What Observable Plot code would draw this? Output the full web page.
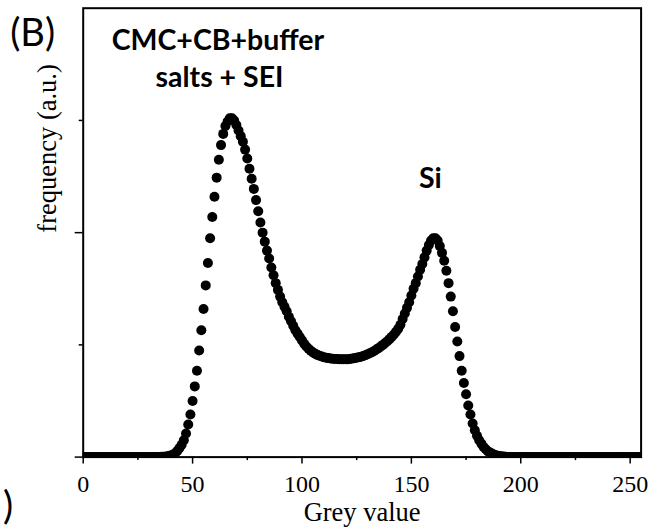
<!DOCTYPE html>
<html>
<head>
<meta charset="utf-8">
<script src="https://cdn.jsdelivr.net/npm/d3@7"></script>
<script src="https://cdn.jsdelivr.net/npm/@observablehq/plot@0.6"></script>
<style>
  html, body { margin: 0; padding: 0; background: #fff; }
  #chart { width: 651px; height: 528px; }
</style>
</head>
<body>
<div id="chart"></div>
<script>
// Frequency (a.u.) for each grey value 0..255
const frequency = [
  // 0-34
  0,0,0,0,0,0,0,0,0,0, 0,0,0,0,0,0,0,0,0,0, 0,0,0,0,0,0,0,0,0,0, 0,0,0,0,0,
  // 35-49
  0.002,0.003,0.004,0.006,0.009,0.014,0.022,0.035,0.055,0.08,0.11,0.15,0.21,0.29,0.38,
  // 50-69
  0.50,0.63,0.77,0.95,1.13,1.32,1.53,1.73,1.95,2.14,2.32,2.49,2.65,2.78,2.88,2.95,2.99,3.02,3.02,3.00,
  // 70-89
  2.96,2.91,2.86,2.81,2.74,2.66,2.57,2.48,2.39,2.29,2.19,2.09,2.00,1.92,1.84,1.77,1.69,1.62,1.55,1.49,
  // 90-109
  1.43,1.38,1.34,1.30,1.25,1.21,1.17,1.13,1.10,1.07,1.04,1.01,0.985,0.965,0.948,0.933,0.921,0.911,0.903,0.896,
  // 110-129
  0.890,0.886,0.882,0.879,0.877,0.875,0.874,0.873,0.872,0.872,0.872,0.873,0.875,0.878,0.881,0.885,0.890,0.895,0.901,0.908,
  // 130-149
  0.916,0.925,0.935,0.946,0.958,0.971,0.985,1.000,1.016,1.033,1.051,1.071,1.093,1.117,1.143,1.18,1.23,1.28,1.33,1.38,
  // 150-169
  1.44,1.50,1.55,1.61,1.67,1.72,1.78,1.84,1.89,1.93,1.95,1.95,1.93,1.88,1.82,1.75,1.66,1.55,1.43,1.30,
  // 170-189
  1.16,1.03,0.90,0.77,0.66,0.56,0.46,0.38,0.30,0.24,0.19,0.15,0.12,0.09,0.07,0.05,0.04,0.03,0.02,0.015,
  // 190-194
  0.01,0.007,0.005,0.003,0.002,
  // 195-255
  0,0,0,0,0,0,0,0,0,0, 0,0,0,0,0,0,0,0,0,0, 0,0,0,0,0,0,0,0,0,0,
  0,0,0,0,0,0,0,0,0,0, 0,0,0,0,0,0,0,0,0,0, 0,0,0,0,0,0,0,0,0,0, 0
];
const greyValue = frequency.map((_, i) => i);

const xTickLabels = [0, 50, 100, 150, 200, 250];
const xMinorTicks = [25, 75, 125, 175, 225];
const yMajorTicks = [0, 2];
const yMinorTicks = [1, 3];

const points = greyValue.map((g, i) => ({g, f: frequency[i]}));

const serif = "'Liberation Serif', 'Times New Roman', serif";
const sans = "Lato, 'Open Sans', sans-serif";

const chart = Plot.plot({
  width: 651,
  height: 528,
  marginLeft: 82.7,
  marginRight: 10.4,
  marginTop: 7.7,
  marginBottom: 71.4,
  style: {background: "#fff", color: "#000", fontFamily: serif},
  x: {domain: [0, 255]},
  y: {domain: [0, 4]},
  marks: [
    Plot.dot(points, {x: "g", y: "f", r: 5, fill: "#000", stroke: "none", clip: "frame"}),
    Plot.frame({stroke: "#000", strokeWidth: 2}),
    Plot.axisX({ticks: xTickLabels, tickSize: 7, tickFormat: () => "", label: null, strokeWidth: 1.5}),
    Plot.axisX({ticks: xMinorTicks, tickSize: 3.5, tickFormat: () => "", label: null, strokeWidth: 1.5}),
    Plot.axisY({ticks: yMajorTicks, tickSize: 8, tickFormat: () => "", label: null, strokeWidth: 1.5}),
    Plot.axisY({ticks: yMinorTicks, tickSize: 4, tickFormat: () => "", label: null, strokeWidth: 1.5}),
    Plot.text(xTickLabels, {x: d => d, frameAnchor: "bottom", dy: 35, lineAnchor: "bottom",
      text: d => String(d), fontSize: 24, fontFamily: serif, fill: "#000"}),
    Plot.text(["Grey value"], {frameAnchor: "bottom", dy: 63.4, lineAnchor: "bottom",
      text: d => d, fontSize: 26.5, fontFamily: serif, fill: "#000"}),
    Plot.text(["frequency (a.u.)"], {frameAnchor: "left", dx: -26.7, rotate: -90, lineAnchor: "bottom",
      text: d => d, fontSize: 26.5, fontFamily: serif, fill: "#000"}),
    Plot.text(["CMC+CB+buffer"], {x: 61.6, y: 3.624, lineAnchor: "bottom", text: d => d,
      fontSize: 28.5, fontWeight: "bold", fontFamily: sans, fill: "#000"}),
    Plot.text(["salts + SEI"], {x: 62.3, y: 3.294, lineAnchor: "bottom", text: d => d,
      fontSize: 28.5, fontWeight: "bold", fontFamily: sans, fill: "#000"}),
    Plot.text(["Si"], {x: 158.7, y: 2.394, lineAnchor: "bottom", text: d => d,
      fontSize: 28.5, fontWeight: "bold", fontFamily: sans, fill: "#000"}),
    Plot.text(["(B)"], {frameAnchor: "top-left", dx: -73, dy: 37.5, lineAnchor: "bottom", textAnchor: "start",
      text: d => d, fontSize: 38, fontFamily: sans, fill: "#000"}),
    Plot.text([")"], {frameAnchor: "bottom-left", dx: -70, dy: 62, lineAnchor: "bottom", textAnchor: "end",
      text: d => d, fontSize: 38, fontFamily: sans, fill: "#000"})
  ]
});
document.getElementById("chart").appendChild(chart);
</script>
</body>
</html>
